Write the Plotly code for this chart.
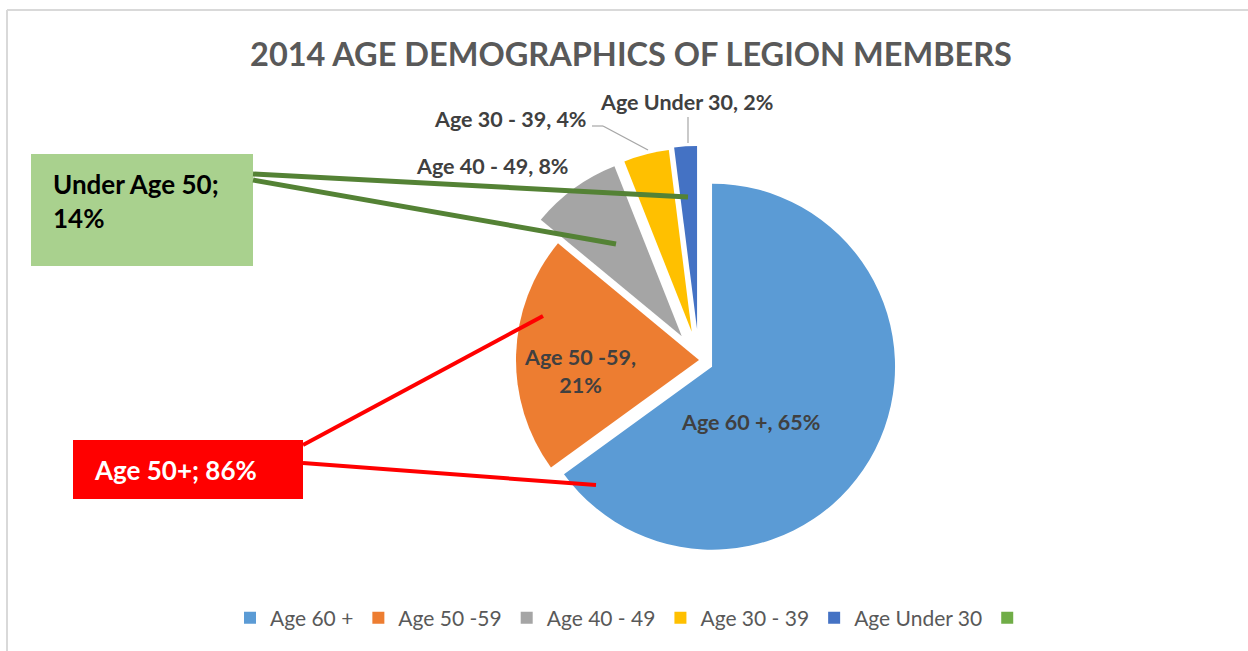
import plotly.graph_objects as go

# ---- data ----
categories = ["Age 60 +", "Age 50 -59", "Age 40 - 49", "Age 30 - 39", "Age Under 30", " "]
shares = [65, 21, 8, 4, 2, 0]
colors = ["#5B9BD5", "#ED7D31", "#A5A5A5", "#FFC000", "#4472C4", "#70AD47"]
pulls = [0.08, 0.0, 0.16, 0.16, 0.17, 0.0]
title_text = "2014 AGE DEMOGRAPHICS OF LEGION MEMBERS"
group_labels = ["Under Age 50", "Age 50+"]
group_shares = [sum(shares[2:5]), sum(shares[0:2])]

W, H = 1248, 651
FONT = "Lato"

# pie geometry (pixels)
cx, cy, r = 699, 360, 183
half = r * (1 + max(pulls))
dom_x = [(cx - half) / W, (cx + half) / W]
dom_y = [1 - (cy + half) / H, 1 - (cy - half) / H]

fig = go.Figure()
fig.add_trace(go.Pie(
    labels=categories, values=shares, sort=False, direction="clockwise", rotation=0,
    pull=pulls, marker=dict(colors=colors, line=dict(width=0)),
    textinfo="none", hoverinfo="label+percent", domain=dict(x=dom_x, y=dom_y),
    showlegend=True,
))

def px(x):
    return x / W

def py(y):
    return 1 - y / H

annotations = []
lab_font = dict(family=FONT, size=21.5, color="#404040")

def lab(text, x, y, **kw):
    d = dict(text=text, x=px(x), y=py(y), xref="paper", yref="paper", showarrow=False,
             font=lab_font, xanchor="center", yanchor="middle")
    d.update(kw)
    annotations.append(d)

lab(f"<b>{categories[0]}, {shares[0]}%</b>", 750, 422)
lab(f"<b>{categories[1]},<br>{shares[1]}%</b>", 580, 371)
lab(f"<b>{categories[2]}, {shares[2]}%</b>", 492, 166)
lab(f"<b>{categories[3]}, {shares[3]}%</b>", 510, 119)
lab(f"<b>{categories[4]}, {shares[4]}%</b>", 686, 102)

# callout texts
annotations.append(dict(text=f"<b>{group_labels[0]};<br>{group_shares[0]}%</b>", x=px(51), y=py(201),
                        xref="paper", yref="paper", showarrow=False, align="left",
                        xanchor="left", yanchor="middle",
                        font=dict(family=FONT, size=26, color="#000000")))
annotations.append(dict(text=f"<b>{group_labels[1]}; {group_shares[1]}%</b>", x=px(92), y=py(470),
                        xref="paper", yref="paper", showarrow=False, align="left",
                        xanchor="left", yanchor="middle",
                        font=dict(family=FONT, size=26, color="#FFFFFF")))

shapes = []

def line(x0, y0, x1, y1, color, width):
    shapes.append(dict(type="line", xref="paper", yref="paper", x0=px(x0), y0=py(y0),
                       x1=px(x1), y1=py(y1), line=dict(color=color, width=width)))

def rect(x0, y0, x1, y1, color):
    shapes.append(dict(type="rect", xref="paper", yref="paper", x0=px(x0), y0=py(y0),
                       x1=px(x1), y1=py(y1), fillcolor=color, line=dict(width=0), layer="above"))

# chart frame
line(7, 10, W, 10, "#D9D9D9", 2)
line(7, 10, 7, H, "#D9D9D9", 2)

# leader lines
line(592, 126, 603, 126, "#A6A6A6", 1.2)
line(603, 126, 648, 150, "#A6A6A6", 1.2)
line(688, 117, 688, 143, "#A6A6A6", 1.2)

# callouts
rect(31, 154, 253, 266, "#A9D18E")
line(253, 174, 688, 197, "#548235", 5)
line(253, 180, 616, 244, "#548235", 5)
rect(73, 440, 303, 499, "#FF0000")
line(303, 445, 543, 316, "#FF0000", 4)
line(303, 463, 596, 485, "#FF0000", 4)

fig.update_layout(
    width=W, height=H, margin=dict(l=0, r=0, t=0, b=0),
    paper_bgcolor="white", plot_bgcolor="white",
    title=dict(text=f"<b>{title_text}</b>", x=631 / W, xanchor="center",
               y=1 - 55 / H, yanchor="middle", yref="container",
               font=dict(family=FONT, size=32.5, color="#595959")),
    legend=dict(orientation="h", x=634 / W, xanchor="center", y=1 - 618 / H, yanchor="middle",
                font=dict(family=FONT, size=21, color="#595959"), itemwidth=30,
                traceorder="normal"),
    annotations=annotations, shapes=shapes,
)

fig.write_html("out.html", config={"displayModeBar": False},
               post_script="document.body.style.margin='0';document.body.style.overflow='hidden';")
